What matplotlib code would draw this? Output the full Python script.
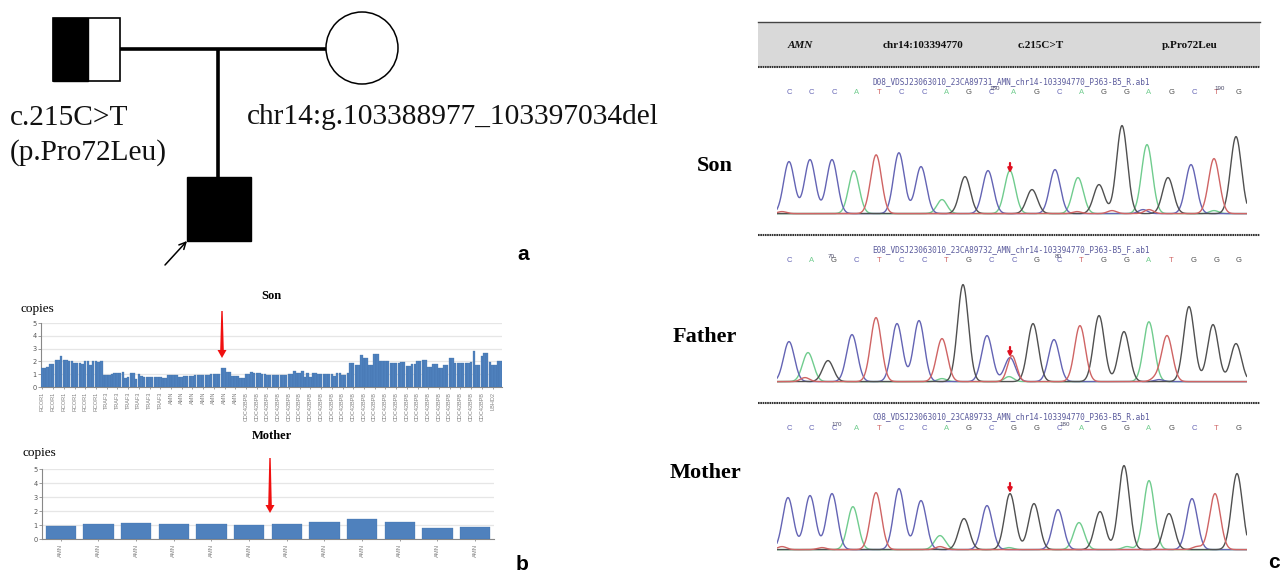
import matplotlib

matplotlib.use("Agg")
import matplotlib.pyplot as plt
import numpy as np
from matplotlib.patches import Circle, Rectangle

# copy number bars, panel b
son_copies = [
    1.5, 1.5, 1.6, 1.8, 1.8, 2.1, 2.1, 2.4, 2.1, 2.1, 2.05, 2.05, 1.9, 1.85, 1.85, 1.8,
    2.0, 2.0, 1.7, 2.05, 2.05, 1.95, 2.0, 0.95, 0.9, 0.9, 1.05, 1.1, 1.1, 1.1, 1.15, 0.7,
    0.8, 1.1, 1.1, 0.6, 1.0, 0.85, 0.8, 0.8, 0.8, 0.8, 0.8, 0.8, 0.8, 0.7, 0.7, 0.9,
    0.9, 0.95, 0.95, 0.75, 0.75, 0.85, 0.85, 0.85, 0.85, 0.9, 0.9, 0.95, 0.95, 0.95, 0.95, 1.0,
    1.0, 1.0, 1.0, 1.45, 1.45, 1.15, 1.15, 0.85, 0.85, 0.85, 0.7, 0.7, 1.0, 1.0, 1.2, 1.1,
    1.1, 1.1, 1.05, 1.0, 0.9, 0.9, 0.9, 0.95, 0.95, 0.95, 0.95, 0.9, 1.05, 1.05, 1.25, 1.1,
    1.1, 1.25, 0.75, 1.1, 0.8, 1.1, 1.1, 1.05, 1.05, 1.05, 1.05, 1.05, 1.05, 0.85, 1.1, 1.1,
    0.95, 0.95, 1.1, 1.85, 1.85, 1.75, 1.75, 2.5, 2.3, 2.3, 1.7, 1.7, 2.55, 2.55, 2.05, 2.05,
    2.05, 2.05, 1.9, 1.9, 1.9, 1.9, 1.95, 1.95, 1.65, 1.65, 1.8, 1.8, 2.05, 2.05, 2.1, 2.1,
    1.55, 1.55, 1.8, 1.8, 1.45, 1.45, 1.7, 1.7, 2.3, 2.3, 1.85, 1.85, 1.9, 1.9, 1.85, 1.85,
    1.95, 2.85, 1.75, 1.75, 2.4, 2.65, 2.65, 1.95, 1.7, 1.7, 2.0, 2.0,
]
son_genes = ["RCOR1"] * 6 + ["TRAF3"] * 6 + ["AMN"] * 7 + ["CDC42BPB"] * 23 + ["LBHD2"]

mother_copies = [0.9, 1.05, 1.15, 1.05, 1.05, 1.0, 1.1, 1.25, 1.45, 1.25, 0.8, 0.85]
mother_genes = ["AMN"] * 12

# sequencing traces, panel c
son_bases = list("CCCATCCAGCAGCAGGAGCTG")
son_pos = [12, 33, 55, 77, 99, 122, 144, 165, 188, 211, 233, 255, 278, 301, 322, 345, 370, 391, 414, 437, 459]
son_heights = [52, 54, 54, 39, 56, 59, 47, 8, 37, 43, 40, 24, 44, 36, 29, 88, 69, 36, 49, 55, 77]
son_minor_bases = list("TATCAATTCTA")
son_minor_pos = [5, 76, 101, 120, 165, 232, 300, 335, 366, 372, 437]
son_minor_heights = [2, 4, 3, 2, 6, 3, 2, 3, 4, 4, 3]

father_bases = list("CAGCTCCTGCCGCTGGATGGG")
father_pos = [12, 31, 51, 75, 99, 120, 142, 165, 186, 210, 233, 256, 277, 303, 322, 347, 372, 390, 412, 436, 459]
father_heights = [40, 29, 21, 47, 64, 58, 61, 43, 97, 46, 24, 58, 42, 54, 66, 50, 58, 46, 75, 57, 38]
father_minor_bases = list("TTAATATC")
father_minor_pos = [235, 28, 165, 232, 302, 370, 378, 382]
father_minor_heights = [26, 4, 3, 5, 2, 2, 3, 2]

mother_bases = list("CCCATCCAGCGGCAGGAGCTG")
mother_pos = [11, 33, 55, 76, 99, 122, 144, 163, 187, 210, 233, 257, 281, 302, 323, 347, 372, 392, 415, 438, 460]
mother_heights = [52, 54, 56, 40, 57, 61, 49, 14, 31, 44, 56, 46, 40, 27, 38, 84, 69, 36, 51, 56, 76]
mother_minor_bases = list("TTATAAT")
mother_minor_pos = [5, 45, 75, 163, 232, 350, 420]
mother_minor_heights = [3, 2, 3, 3, 2, 3, 3]

base_colors = {"A": "#70cc8e", "C": "#6464b4", "G": "#505050", "T": "#cf6464"}
BAR_COLOR = "#4f81bd"
SERIF = "Liberation Serif"

fig = plt.figure(figsize=(12.88, 5.72), dpi=100)


def px_axes(x0, y0, x1, y1):
    # axes from pixel box, y counted from the top of the picture
    return fig.add_axes([x0 / 1288, 1 - y1 / 572, (x1 - x0) / 1288, (y1 - y0) / 572])


def draw_bars(ax, values, genes, tick_step, width, label_size):
    xs = np.arange(len(values))
    ax.bar(xs, values, width=width, color=BAR_COLOR, edgecolor="#3f6fa8", linewidth=0.2, zorder=3)
    ax.set_xlim(-0.5, len(values) - 0.5)
    ax.set_ylim(0, 5)
    ax.set_yticks(range(6))
    ax.grid(axis="y", color="#e6e6e6", linewidth=0.9, zorder=0)
    ax.set_xticks(xs[::tick_step])
    ax.set_xticklabels(genes, rotation=90, fontsize=label_size, color="#808080", family="Liberation Sans")
    ax.tick_params(axis="x", length=1.5, width=0.5, color="#777777", pad=2)
    ax.tick_params(axis="y", length=2, width=0.5, color="#777777", labelsize=4.8, labelcolor="#555555", pad=1)
    for side in ["top", "right"]:
        ax.spines[side].set_visible(False)
    for side in ["left", "bottom"]:
        ax.spines[side].set_color("#888888")
        ax.spines[side].set_linewidth(0.8)


def draw_trace(box, bases, pos, heights, minor_bases, minor_pos, minor_heights):
    ax = px_axes(*box)
    ax.set_xlim(0, 470)
    ax.set_ylim(-3, 100)
    ax.axis("off")
    scan = np.arange(0, 470, 0.25)
    for base, color in base_colors.items():
        y = np.zeros_like(scan) + 0.4
        for b, p, h in zip(bases, pos, heights):
            if b == base:
                y += h * np.exp(-((scan - p) ** 2) / (2 * 5.4**2))
        for b, p, h in zip(minor_bases, minor_pos, minor_heights):
            if b == base:
                y += h * np.exp(-((scan - p) ** 2) / (2 * 4.5**2))
        ax.plot(scan, y, color=color, linewidth=1.0, solid_joinstyle="round")
    return ax


# one pixel axes over the whole figure for pedigree, labels and arrows
canvas = px_axes(0, 0, 1288, 572)
canvas.set_xlim(0, 1288)
canvas.set_ylim(572, 0)
canvas.axis("off")
canvas.set_zorder(5)

# pedigree
canvas.plot([120, 326], [49, 49], color="black", linewidth=2.6, solid_capstyle="butt")
canvas.plot([218, 218], [49, 178], color="black", linewidth=2.6, solid_capstyle="butt")
canvas.add_patch(Rectangle((53, 18), 67, 63, facecolor="white", edgecolor="black", linewidth=1.2))
canvas.add_patch(Rectangle((53, 18), 35, 63, facecolor="black", edgecolor="black", linewidth=1))
canvas.add_patch(Rectangle((187, 177), 64, 64, facecolor="black", edgecolor="black", linewidth=1))
canvas.add_patch(Circle((362, 48), 36, facecolor="white", edgecolor="black", linewidth=1.1))
canvas.annotate("", xy=(187, 241), xytext=(165, 265),
                arrowprops=dict(arrowstyle="->", color="black", linewidth=1.1, shrinkA=0, shrinkB=0, mutation_scale=12))

canvas.text(10, 118, "c.215C>T", family=SERIF, fontsize=21.2, va="center", color="#111111")
canvas.text(10, 153, "(p.Pro72Leu)", family=SERIF, fontsize=21.2, va="center", color="#111111")
canvas.text(247, 117, "chr14:g.103388977_103397034del", family=SERIF, fontsize=21.2, va="center", color="#111111")

# panel letters
letter_font = dict(family="Liberation Sans", fontweight="bold", fontsize=15, ha="center", va="center")
canvas.text(523, 254, "a", **letter_font)
canvas.text(522, 564, "b", **letter_font)
canvas.text(1274, 562, "c", **letter_font)

# copy number charts
son_ax = px_axes(41, 323, 502, 387)
draw_bars(son_ax, son_copies, son_genes, 4, 0.92, 4.0)
mother_ax = px_axes(42, 469, 494, 539)
draw_bars(mother_ax, mother_copies, mother_genes, 1, 0.8, 4.2)

canvas.text(271, 296, "Son", family=SERIF, fontweight="bold", fontsize=9, ha="center", va="center")
canvas.text(272, 436, "Mother", family=SERIF, fontweight="bold", fontsize=9, ha="center", va="center")
canvas.text(21, 309, "copies", family=SERIF, fontsize=9.5, va="center")
canvas.text(23, 453, "copies", family=SERIF, fontsize=9.5, va="center")


def red_arrow(x, y0, y1):
    canvas.fill([x - 0.7, x + 0.7, x + 1.8, x + 4.5, x, x - 4.5, x - 1.8],
                [y0, y0, y1 - 8, y1 - 8, y1, y1 - 8, y1 - 8],
                color="#f01010", linewidth=0, zorder=6)


red_arrow(222, 311, 358)
red_arrow(270, 458, 513)

# header band over the traces
canvas.add_patch(Rectangle((758, 22), 502, 45, facecolor="#d9d9d9", edgecolor="none"))
canvas.plot([758, 1260], [22, 22], color="#444444", linewidth=1)
for y in [67, 235, 403]:
    canvas.plot([758, 1260], [y, y], color="#333333", linewidth=1.5, linestyle=(0, (0.8, 0.3)))

header_font = dict(family=SERIF, fontweight="bold", fontsize=8, ha="center", va="center", color="#111111")
canvas.text(800, 46, "AMN", style="italic", **header_font)
canvas.text(923, 46, "chr14:103394770", **header_font)
canvas.text(1041, 46, "c.215C>T", **header_font)
canvas.text(1190, 46, "p.Pro72Leu", **header_font)

row_font = dict(family=SERIF, fontweight="bold", fontsize=16, ha="center", va="center")
canvas.text(715, 166, "Son", **row_font)
canvas.text(705, 337, "Father", **row_font)
canvas.text(705, 473, "Mother", **row_font)

# traces with their file names, called bases and scale numbers
draw_trace((777, 114, 1247, 217), son_bases, son_pos, son_heights, son_minor_bases, son_minor_pos, son_minor_heights)
draw_trace((777, 282, 1247, 385), father_bases, father_pos, father_heights, father_minor_bases, father_minor_pos, father_minor_heights)
draw_trace((777, 450, 1247, 553), mother_bases, mother_pos, mother_heights, mother_minor_bases, mother_minor_pos, mother_minor_heights)

trace_names = [
    ("D08_VDSJ23063010_23CA89731_AMN_chr14-103394770_P363-B5_R.ab1", 82),
    ("E08_VDSJ23063010_23CA89732_AMN_chr14-103394770_P363-B5_F.ab1", 250),
    ("C08_VDSJ23063010_23CA89733_AMN_chr14-103394770_P363-B5_R.ab1", 417),
]
for name, y in trace_names:
    canvas.text(1011, y, name, family="DejaVu Sans Mono", fontsize=5.6, ha="center", va="center", color="#5a5a9c")

letter_rows = [(son_bases, 92), (father_bases, 260), (mother_bases, 428)]
letter_x = np.linspace(789, 1239, 21)
for bases, y in letter_rows:
    for x, b in zip(letter_x, bases):
        canvas.text(x, y, b, family="Liberation Sans", fontsize=5.5, ha="center", va="center", color=base_colors[b])

scale_marks = [("180", 995, 88), ("190", 1220, 88), ("70", 831, 256), ("80", 1058, 256), ("170", 837, 424), ("180", 1065, 424)]
for label, x, y in scale_marks:
    canvas.text(x, y, label, family="Liberation Sans", fontsize=4.5, ha="center", va="center", color="#4a4a6a")

for y in [163, 347, 483]:
    canvas.annotate("", xy=(1010, y + 10), xytext=(1010, y),
                    arrowprops=dict(arrowstyle="-|>", color="#e01020", linewidth=1.6, shrinkA=0, shrinkB=0, mutation_scale=6))

fig.savefig("out.png", dpi=100)
